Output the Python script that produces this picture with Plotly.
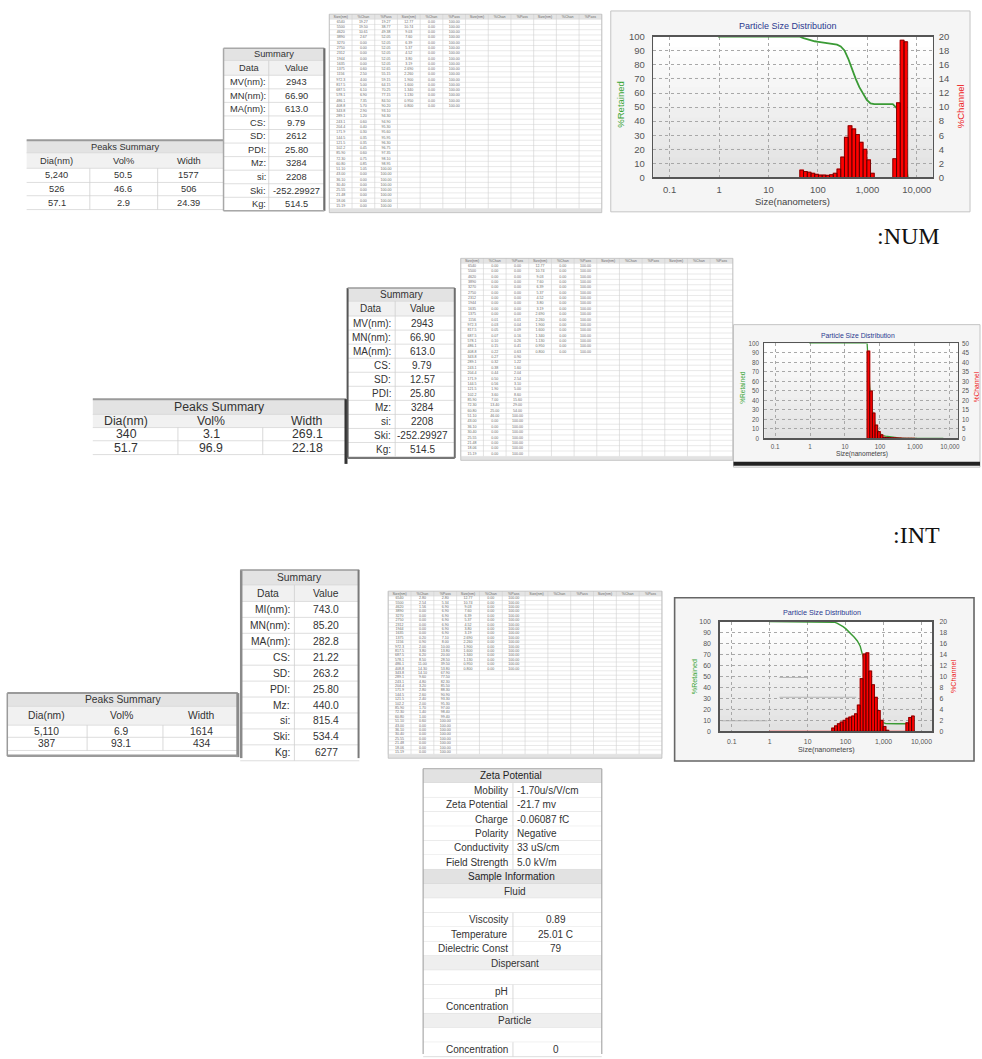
import plotly.graph_objects as go

W, H = 982, 1059
FONT = "Liberation Sans"

# ---------------- data ----------------
SIZE_LABELS = ["6540", "5500", "4620", "3890", "3270", "2750", "2312", "1944", "1635", "1375",
               "1156", "972.3", "817.5", "687.5", "578.1", "486.1", "408.8", "343.8", "289.1", "243.1",
               "204.4", "171.9", "144.5", "121.5", "102.2", "85.90", "72.30", "60.80", "51.10", "43.00",
               "36.10", "30.40", "25.55", "21.48", "18.06", "15.19",
               "12.77", "10.74", "9.03", "7.60", "6.39", "5.37", "4.52", "3.80", "3.19", "2.690",
               "2.260", "1.900", "1.600", "1.340", "1.130", "0.950", "0.800"]

VOL_CHAN = [19.27, 19.50, 10.61, 2.67, 0, 0, 0, 0, 0, 0.60,
            2.50, 4.00, 5.00, 6.10, 6.90, 7.35, 5.70, 2.90, 1.20, 0.60,
            0.40, 0.30, 0.35, 0.35, 0.45, 0.60, 0.75, 0.85, 1.05, 0,
            0, 0, 0, 0, 0, 0,
            0, 0, 0, 0, 0, 0, 0, 0, 0, 0, 0, 0, 0, 0, 0, 0, 0]

NUM_CHAN = [0, 0, 0, 0, 0, 0, 0, 0, 0, 0,
            0.01, 0.03, 0.05, 0.07, 0.10, 0.15, 0.22, 0.27, 0.32, 0.38,
            0.44, 0.50, 0.56, 1.90, 3.60, 7.00, 13.40, 25.00, 46.00, 0,
            0, 0, 0, 0, 0, 0,
            0, 0, 0, 0, 0, 0, 0, 0, 0, 0, 0, 0, 0, 0, 0, 0, 0]

INT_CHAN = [2.80, 2.54, 1.56, 0, 0, 0, 0, 0, 0, 0.20,
            0.90, 2.00, 3.80, 6.20, 8.50, 11.00, 14.30, 14.10, 9.60, 4.80,
            3.20, 2.80, 2.60, 2.40, 2.00, 1.70, 1.40, 1.00, 0.60, 0,
            0, 0, 0, 0, 0, 0,
            0, 0, 0, 0, 0, 0, 0, 0, 0, 0, 0, 0, 0, 0, 0, 0, 0]

X_TICK_VALUES = [0.1, 1, 10, 100, 1000, 10000]
X_TICK_TEXT = ["0.1", "1", "10", "100", "1,000", "10,000"]
DISPLAY_MIN_SIZE = 0.95

PEAK_HEADERS = ["Dia(nm)", "Vol%", "Width"]
VOL_PEAKS = [["5,240", "50.5", "1577"], ["526", "46.6", "506"], ["57.1", "2.9", "24.39"]]
NUM_PEAKS = [["340", "3.1", "269.1"], ["51.7", "96.9", "22.18"]]
INT_PEAKS = [["5,110", "6.9", "1614"], ["387", "93.1", "434"]]

SUMMARY_LABELS_V = ["MV(nm):", "MN(nm):", "MA(nm):", "CS:", "SD:", "PDI:", "Mz:", "si:", "Ski:", "Kg:"]
SUMMARY_LABELS_I = ["MI(nm):", "MN(nm):", "MA(nm):", "CS:", "SD:", "PDI:", "Mz:", "si:", "Ski:", "Kg:"]
VOL_SUMMARY = ["2943", "66.90", "613.0", "9.79", "2612", "25.80", "3284", "2208", "-252.29927", "514.5"]
NUM_SUMMARY = ["2943", "66.90", "613.0", "9.79", "12.57", "25.80", "3284", "2208", "-252.29927", "514.5"]
INT_SUMMARY = ["743.0", "85.20", "282.8", "21.22", "263.2", "25.80", "440.0", "815.4", "534.4", "6277"]

DATA_HEADERS = ["Size(nm)", "%Chan", "%Pass"]

ZETA_ROWS = [("head", "Zeta Potential", ""),
             ("item", "Mobility", "-1.70u/s/V/cm"),
             ("item", "Zeta Potential", "-21.7 mv"),
             ("item", "Charge", "-0.06087 fC"),
             ("item", "Polarity", "Negative"),
             ("item", "Conductivity", "33 uS/cm"),
             ("item", "Field Strength", "5.0 kV/m"),
             ("head", "Sample Information", ""),
             ("sub", "Fluid", ""),
             ("blank", "", ""),
             ("itemc", "Viscosity", "0.89"),
             ("itemc", "Temperature", "25.01 C"),
             ("itemc", "Dielectric Const", "79"),
             ("sub", "Dispersant", ""),
             ("blank", "", ""),
             ("itemc", "pH", ""),
             ("itemc", "Concentration", ""),
             ("sub", "Particle", ""),
             ("blank", "", ""),
             ("itemc", "Concentration", "0")]

SIZES = [float(s) for s in SIZE_LABELS]

# ---------------- helpers ----------------
shapes, anns = [], []


def rect(x0, y0, x1, y1, fill=None, color=None, width=0):
    shapes.append(dict(type="rect", xref="paper", yref="paper", layer="below",
                       x0=x0 / W, x1=x1 / W, y0=1 - y1 / H, y1=1 - y0 / H,
                       fillcolor=fill or "rgba(0,0,0,0)",
                       line=dict(color=color or "rgba(0,0,0,0)", width=width)))


def seg(x0, y0, x1, y1, color="#cccccc", width=1):
    shapes.append(dict(type="line", xref="paper", yref="paper", layer="below",
                       x0=x0 / W, x1=x1 / W, y0=1 - y0 / H, y1=1 - y1 / H,
                       line=dict(color=color, width=width)))


def text(x, y, s, size=10, color="#222222", anchor="center", family=FONT, angle=0):
    anns.append(dict(x=x / W, y=1 - y / H, xref="paper", yref="paper", text=s, showarrow=False,
                     xanchor=anchor, yanchor="middle", textangle=angle,
                     font=dict(size=size, color=color, family=family)))


def vgrad(x0, y0, x1, y1, c0, c1, n=14):
    for k in range(n):
        t = k / (n - 1)
        c = tuple(int(round(c0[j] + (c1[j] - c0[j]) * t)) for j in range(3))
        ya = y0 + (y1 - y0) * k / n
        yb = y0 + (y1 - y0) * (k + 1) / n + 0.6
        rect(x0, ya, x1, yb, fill="rgb(%d,%d,%d)" % c)


fig = go.Figure()
layout_axes = {}

# ---------------- charts ----------------
CHARTS = [
    dict(chan=VOL_CHAN, box=(654.7, 31.0, 934.7, 173.3), xr=(-1.329, 4.323), rmax=20, rdt=2,
         fs=9.5, panel=(612, 5, 972, 208), panel_line=("#c4c4c4", 1),
         title=(789.7, 20, 9), xt=(794.5, 197.5, 9.5), lt=(622, 100, 9.5), rt=(962.5, 101.7, 9.5),
         axes=("x", "y", "y2"), names=("xaxis", "yaxis", "yaxis2"), std=(5, 3), lw=1.6, gw=1.8),
    dict(chan=NUM_CHAN, box=(766.0, 341.0, 960.0, 437.0), xr=(-1.306, 4.237), rmax=50, rdt=5,
         fs=6.3, panel=(735, 322, 982, 466), panel_line=("#c4c4c4", 1),
         title=(859.7, 333, 6.8), xt=(863.3, 453, 6.6), lt=(743.3, 385, 6.6), rt=(978.3, 385, 6.6),
         axes=("x2", "y3", "y4"), names=("xaxis2", "yaxis3", "yaxis4"), std=(3, 2), lw=1.2, gw=1.3),
    dict(chan=INT_CHAN, box=(721.0, 622.0, 934.3, 733.0), xr=(-1.324, 4.289), rmax=20, rdt=2,
         fs=6.9, panel=(676, 598, 976, 763), panel_line=("#666666", 1.6),
         title=(823.5, 613, 7.2), xt=(827.7, 751.5, 7.2), lt=(696.7, 678, 7.2), rt=(956, 677, 7.2),
         axes=("x3", "y5", "y6"), names=("xaxis3", "yaxis5", "yaxis6"), std=(6, 3), lw=1.3, gw=1.4),
]

for c in CHARTS:
    l, t, r, b = c["box"]
    p = c["panel"]
    rect(*p, fill="#f5f5f5", color=c["panel_line"][0], width=c["panel_line"][1])
    vgrad(l, t, r, b, (255, 255, 255), (226, 226, 226))
    xa, ya, yb = c["axes"]
    xn, yan, ybn = c["names"]
    chan = c["chan"]
    tickfont = dict(size=c["fs"], color="#555555", family=FONT)
    layout_axes[xn] = dict(type="log", range=list(c["xr"]), domain=[l / W, r / W], anchor=ya,
                           tickmode="array", tickvals=X_TICK_VALUES, ticktext=X_TICK_TEXT,
                           showgrid=True, gridcolor="#a8a8a8", griddash="dot", gridwidth=1,
                           showline=True, mirror=True, linecolor="#555555", linewidth=c["lw"],
                           zeroline=False, ticks="", tickfont=tickfont, ticklabelstandoff=c["std"][1],
                           fixedrange=True)
    layout_axes[yan] = dict(range=[0, 100], dtick=10, domain=[1 - b / H, 1 - t / H], anchor=xa,
                            showgrid=True, gridcolor="#a8a8a8", griddash="dot", gridwidth=1,
                            showline=True, mirror=True, linecolor="#555555", linewidth=c["lw"],
                            zeroline=False, ticks="", tickfont=tickfont, ticklabelstandoff=c["std"][0],
                            fixedrange=True)
    layout_axes[ybn] = dict(range=[0, c["rmax"]], dtick=c["rdt"], overlaying=ya, side="right", anchor=xa,
                            showgrid=False, zeroline=False, showline=False, ticks="", tickfont=tickfont,
                            ticklabelstandoff=c["std"][0], fixedrange=True)

    # red channel line (step), ascending sizes
    idx = [i for i in range(len(SIZES)) if SIZES[i] >= DISPLAY_MIN_SIZE][::-1]
    fig.add_trace(go.Scatter(x=[SIZES[i] for i in idx], y=[chan[i] for i in idx], mode="lines",
                             line=dict(color="#ff2020", width=1.1, shape="vh"),
                             xaxis=xa, yaxis=yb, hoverinfo="skip", showlegend=False))
    # histogram bars
    bx, by = [], []
    for i, v in enumerate(chan):
        if v > 0:
            lo, hi = SIZES[i + 1], SIZES[i]
            bx += [lo, lo, hi, hi, lo, None]
            by += [0, v, v, 0, 0, None]
    fig.add_trace(go.Scatter(x=bx, y=by, mode="lines", fill="toself", fillcolor="#ff0000",
                             line=dict(color="#4a0000", width=0.7),
                             xaxis=xa, yaxis=yb, hoverinfo="skip", showlegend=False))
    # cumulative %retained line
    gx = [SIZES[i] for i in idx]
    gy = [sum(chan[:i]) for i in idx]
    fig.add_trace(go.Scatter(x=gx, y=gy, mode="lines", line=dict(color="#3a9a35", width=c["gw"]),
                             xaxis=xa, yaxis=ya, hoverinfo="skip", showlegend=False))

    tx, ty, tsz = c["title"]
    text(tx, ty, "Particle Size Distribution", tsz, "#2b3990")
    tx, ty, tsz = c["xt"]
    text(tx, ty, "Size(nanometers)", tsz, "#444444")
    tx, ty, tsz = c["lt"]
    text(tx, ty, "%Retained", tsz, "#3aa535", angle=-90)
    tx, ty, tsz = c["rt"]
    text(tx, ty, "%Channel", tsz, "#ee2222", angle=-90)

# chart 2 heavy bottom rule
seg(735, 462.6, 982, 462.6, "#222222", 4)
# stray screen-capture rules inside chart 3 plot area
seg(781, 678.5, 809, 678.5, "#b4b4b4", 1)
seg(781, 698.5, 858, 698.5, "#b4b4b4", 1)
seg(723, 722.3, 769, 722.3, "#b4b4b4", 1)

# ---------------- data tables (tiny) ----------------
tx_all, ty_all, tt_all = [], [], []


def data_table(x0, x1, y0, hh, rh, chan):
    n = 36
    cw = (x1 - x0) / 12.0
    y_end = y0 + hh + n * rh
    rect(x0, y0, x1, y_end, fill="#ffffff")
    rect(x0, y0, x1, y0 + hh, fill="#e4e4e4")
    for k in range(n + 1):
        yy = y0 + hh + k * rh
        seg(x0, yy, x1, yy, "#dadada", 0.6)
    for k in range(13):
        xx = x0 + k * cw
        seg(xx, y0, xx, y_end, "#d0d0d0", 0.6)
    rect(x0, y_end, x1, y_end + 4, fill="#e2e2e2")
    rect(x0, y0, x1, y_end + 4, color="#bdbdbd", width=0.8)
    for g in range(4):
        for j in range(3):
            tx_all.append(x0 + (g * 3 + j + 0.5) * cw)
            ty_all.append(y0 + hh / 2)
            tt_all.append(DATA_HEADERS[j])
    cum = 0.0
    cums = []
    for v in chan:
        cum += v
        cums.append(min(cum, 100.0))
    for i in range(len(SIZE_LABELS)):
        g, rr = (0, i) if i < n else (1, i - n)
        yy = y0 + hh + (rr + 0.5) * rh
        vals = [SIZE_LABELS[i], "%.2f" % chan[i], "%.2f" % cums[i]]
        for j in range(3):
            tx_all.append(x0 + (g * 3 + j + 0.5) * cw)
            ty_all.append(yy)
            tt_all.append(vals[j])


data_table(330, 603, 8.3, 5.0, 5.32, VOL_CHAN)
data_table(461.7, 734.3, 255.0, 5.0, 5.42, NUM_CHAN)
data_table(389, 663.3, 591.3, 5.0, 4.44, INT_CHAN)

fig.add_trace(go.Scatter(x=tx_all, y=ty_all, text=tt_all, mode="text", xaxis="x4", yaxis="y7",
                         textfont=dict(size=3.6, color="#6a6a6a", family=FONT),
                         hoverinfo="skip", showlegend=False))
layout_axes["xaxis4"] = dict(domain=[0, 1], range=[0, W], visible=False, anchor="y7", fixedrange=True)
layout_axes["yaxis7"] = dict(domain=[0, 1], range=[H, 0], visible=False, anchor="x4", fixedrange=True)


# ---------------- peaks / summary tables ----------------
def peaks_table(x0, x1, ys, cols_x, divs, rows, fs, top_color="#9a9a9a"):
    rect(x0, ys[0], x1, ys[1], fill="#e3e3e3")
    rect(x0, ys[1], x1, ys[2], fill="#f1f1f1")
    rect(x0, ys[2], x1, ys[-1], fill="#ffffff")
    seg(x0, ys[0], x1, ys[0], top_color, 2)
    for yy in ys[1:]:
        seg(x0, yy, x1, yy, "#d6d6d6", 0.8)
    for xx in divs:
        seg(xx, ys[2], xx, ys[-1], "#cfcfcf", 0.8)
    text((x0 + x1) / 2, (ys[0] + ys[1]) / 2, "Peaks Summary", fs, "#333333")
    for j in range(3):
        text(cols_x[j], (ys[1] + ys[2]) / 2, PEAK_HEADERS[j], fs, "#333333")
    for r, row in enumerate(rows):
        for j in range(3):
            text(cols_x[j], (ys[2 + r] + ys[3 + r]) / 2, row[j], fs, "#333333")


def summary_table(x0, x1, xdiv, y0, h1, h2, rh, labels, values, fs, lab_x, val_x, data_x):
    rect(x0, y0, x1, y0 + h1, fill="#e3e3e3")
    rect(x0, y0 + h1, x1, y0 + h1 + h2, fill="#f1f1f1")
    ystart = y0 + h1 + h2
    yend = ystart + rh * len(labels)
    rect(x0, ystart, x1, yend, fill="#ffffff")
    for k in range(len(labels) + 1):
        seg(x0, ystart + k * rh, x1, ystart + k * rh, "#d6d6d6", 0.8)
    seg(x0, y0 + h1, x1, y0 + h1, "#d6d6d6", 0.8)
    seg(xdiv, y0 + h1, xdiv, yend, "#cfcfcf", 0.8)
    text((x0 + x1) / 2, y0 + h1 / 2, "Summary", fs, "#333333")
    text(data_x, y0 + h1 + h2 / 2, "Data", fs, "#333333")
    text(val_x, y0 + h1 + h2 / 2, "Value", fs, "#333333")
    for k in range(len(labels)):
        yy = ystart + (k + 0.5) * rh
        text(lab_x, yy, labels[k], fs, "#333333", anchor="right")
        text(val_x, yy, values[k], fs, "#333333")
    return yend


# VOL
peaks_table(26.7, 224, [135.7, 148.3, 164.0, 178.3, 191.7, 205.7], [56.7, 123.3, 189.3], [90, 158],
            VOL_PEAKS, 9.3)
ye = summary_table(224, 325, 269.3, 42.7, 12.3, 15.0, 13.7, SUMMARY_LABELS_V, VOL_SUMMARY, 9.3,
                   268.5, 296.7, 250)
seg(224, 42.7, 224, ye, "#a8a8a8", 1.5)
seg(224, 42.7, 325, 42.7, "#a8a8a8", 1.5)
seg(325, 42.7, 325, ye, "#6e6e6e", 2.2)
seg(224, ye, 325, ye, "#a8a8a8", 1.5)

# NUM
peaks_table(93, 346.7, [397.3, 412.7, 426.0, 439.3, 453.3], [126.7, 211.7, 308.0], [178.3, 263.3],
            NUM_PEAKS, 12.3)
seg(346.7, 397.3, 346.7, 462.7, "#333333", 3)
ye = summary_table(348.3, 455.7, 396, 285, 13.3, 15.0, 14.2, SUMMARY_LABELS_V, NUM_SUMMARY, 10,
                   393.5, 423.3, 371.7)
seg(348.3, 285, 348.3, ye + 1.5, "#555555", 2)
seg(348.3, 285, 455.7, 285, "#9a9a9a", 1.5)
seg(455.7, 285, 455.7, ye + 1.5, "#6e6e6e", 2)
seg(348.3, ye + 1.5, 455.7, ye + 1.5, "#777777", 2)

# INT
peaks_table(7.3, 238.3, [694.3, 707.7, 726.7, 739.0, 752.3], [46.7, 121.7, 201.7], [87.3, 163.3],
            INT_PEAKS, 10.3)
seg(7.3, 694.3, 7.3, 758, "#9a9a9a", 1.5)
seg(238.3, 694.3, 238.3, 759, "#8a8a8a", 3)
seg(7.3, 757.7, 238.3, 757.7, "#9a9a9a", 2.5)
ye = summary_table(240.7, 360, 295, 570, 15.0, 16.7, 16.1, SUMMARY_LABELS_I, INT_SUMMARY, 10.3,
                   292.5, 326.7, 268.3)
seg(241.7, 570, 241.7, 760, "#8a8a8a", 2.5)
seg(240.7, 570, 360, 570, "#9a9a9a", 1.5)
seg(359.3, 570, 359.3, 760, "#7a7a7a", 2)

# ---------------- zeta potential table ----------------
zx0, zx1, zdiv = 424, 603, 514
ztop, zp = 770.7, 14.55
for k, (kind, lab, val) in enumerate(ZETA_ROWS):
    y0 = ztop + k * zp
    y1 = y0 + zp
    yc = (y0 + y1) / 2
    fill = {"head": "#e2e2e2", "sub": "#efefef"}.get(kind, "#ffffff")
    rect(zx0, y0, zx1, y1, fill=fill)
    seg(zx0, y1, zx1, y1, "#d6d6d6", 0.8)
    if kind == "head":
        text(512.5, yc, lab, 10, "#222222")
    elif kind == "sub":
        text(516.5, yc, lab, 10, "#333333")
    elif kind in ("item", "itemc"):
        seg(zdiv, y0, zdiv, y1, "#cfcfcf", 0.8)
        text(511, yc, lab, 10, "#333333", anchor="right")
        if kind == "item":
            text(515.7, yc, val, 10, "#333333", anchor="left")
        else:
            text(556.7, yc, val, 10, "#333333")
seg(zx0, ztop, zx1, ztop, "#aaaaaa", 1)
seg(zx0, ztop, zx0, H, "#aaaaaa", 1.2)
seg(zx1, ztop, zx1, H, "#aaaaaa", 1.2)

# ---------------- section labels ----------------
text(943.5, 232, ":NUM", 24, "#111111", anchor="right", family="Liberation Serif")
text(943.5, 535, ":INT", 24, "#111111", anchor="right", family="Liberation Serif")

fig.update_layout(width=W, height=H, margin=dict(l=0, r=0, t=0, b=0),
                  paper_bgcolor="#ffffff", plot_bgcolor="rgba(0,0,0,0)",
                  showlegend=False, hovermode=False, shapes=shapes, annotations=anns,
                  font=dict(family=FONT), **layout_axes)

PAGE_FIX = ("document.documentElement.style.margin='0';document.documentElement.style.overflow='hidden';"
            "document.body.style.margin='0';document.body.style.padding='0';document.body.style.overflow='hidden';")
fig.write_html("out.html", post_script=PAGE_FIX, config={"displayModeBar": False, "staticPlot": True})
